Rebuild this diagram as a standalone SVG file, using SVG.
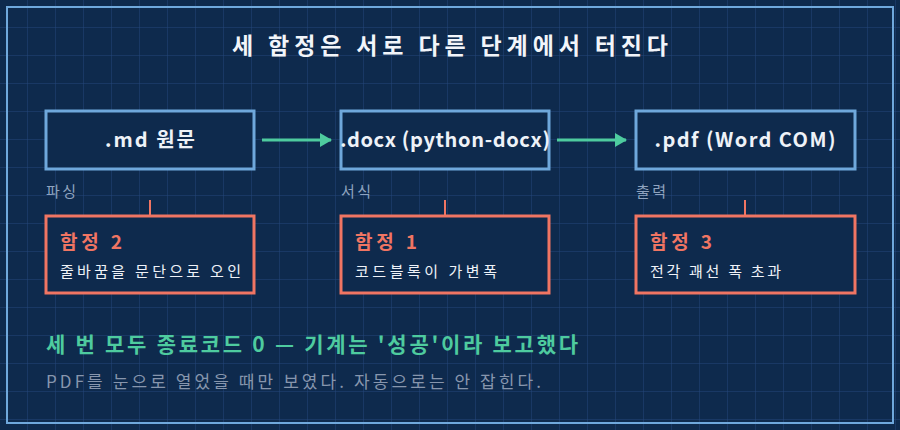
<svg xmlns="http://www.w3.org/2000/svg" width="900" height="430" viewBox="0 0 900 430">
<defs>
<pattern id="grid" width="28" height="28" patternUnits="userSpaceOnUse"><path d="M28 0V28M0 28H28" fill="none" stroke="#24467a" stroke-width="1"/></pattern>
<marker id="ah" markerWidth="12" markerHeight="14" refX="11" refY="7" orient="auto" markerUnits="userSpaceOnUse"><path d="M0 0L12 7L0 14Z" fill="#4ecb9f"/></marker>
<style>
text{font-family:"Noto Sans CJK KR","Noto Sans",sans-serif}
.stage{fill:#0e2a4d;stroke:#6fa8dc;stroke-width:3}
.trap{fill:#0e2a4d;stroke:#f07563;stroke-width:3}
.st{fill:#eef2f8;font-size:20px;font-weight:bold;text-anchor:middle}
.lb{fill:#8fa3bf;font-size:15px}
.tt{fill:#f07563;font-size:19px;font-weight:bold}
.td{fill:#eef2f8;font-size:15px}
.tick{stroke:#f07563;stroke-width:2}
.conn{stroke:#4ecb9f;stroke-width:3;marker-end:url(#ah)}
</style>
</defs>
<rect width="900" height="430" fill="#0e2a4d"/>
<rect width="900" height="430" fill="url(#grid)"/>
<rect x="7" y="7" width="886" height="416" fill="none" stroke="#6fa8dc" stroke-width="2"/>
<text x="450" y="54" fill="#f2f5fa" font-size="23" font-weight="bold" text-anchor="middle" textLength="436" lengthAdjust="spacing">세 함정은 서로 다른 단계에서 터진다</text>
<g id="connectors">
<line class="conn" x1="262" y1="140" x2="331" y2="140"/>
<line class="conn" x1="557" y1="140" x2="626" y2="140"/>
</g>
<g id="md"><rect class="stage" x="46" y="111" width="208" height="58"/><text class="st" x="150" y="147" textLength="90" lengthAdjust="spacing">.md 원문</text></g>
<g id="docx"><rect class="stage" x="341" y="111" width="208" height="58"/><text class="st" x="445" y="147" textLength="210" lengthAdjust="spacing">.docx (python-docx)</text></g>
<g id="pdf"><rect class="stage" x="636" y="111" width="219" height="58"/><text class="st" x="745" y="147" textLength="181" lengthAdjust="spacing">.pdf (Word COM)</text></g>
<g id="trap2"><text class="lb" x="46" y="197" textLength="30">파싱</text><line class="tick" x1="150" y1="200" x2="150" y2="216"/><rect class="trap" x="46" y="216" width="208" height="77"/><text class="tt" x="60" y="249" textLength="62" lengthAdjust="spacing">함정 2</text><text class="td" x="60" y="277" textLength="181" lengthAdjust="spacing">줄바꿈을 문단으로 오인</text></g>
<g id="trap1"><text class="lb" x="341" y="197" textLength="30">서식</text><line class="tick" x1="445" y1="200" x2="445" y2="216"/><rect class="trap" x="341" y="216" width="208" height="77"/><text class="tt" x="355" y="249" textLength="62" lengthAdjust="spacing">함정 1</text><text class="td" x="355" y="277" textLength="142" lengthAdjust="spacing">코드블록이 가변폭</text></g>
<g id="trap3"><text class="lb" x="636" y="197" textLength="30">출력</text><line class="tick" x1="745" y1="200" x2="745" y2="216"/><rect class="trap" x="636" y="216" width="219" height="77"/><text class="tt" x="650" y="249" textLength="62" lengthAdjust="spacing">함정 3</text><text class="td" x="650" y="277" textLength="131" lengthAdjust="spacing">전각 괘선 폭 초과</text></g>
<text x="46" y="352" fill="#4ecb9f" font-size="21" font-weight="bold" textLength="532" lengthAdjust="spacing">세 번 모두 종료코드 0 — 기계는 '성공'이라 보고했다</text>
<text x="46" y="388" fill="#8796ad" font-size="17" textLength="495" lengthAdjust="spacing">PDF를 눈으로 열었을 때만 보였다.  자동으로는 안 잡힌다.</text>
</svg>
